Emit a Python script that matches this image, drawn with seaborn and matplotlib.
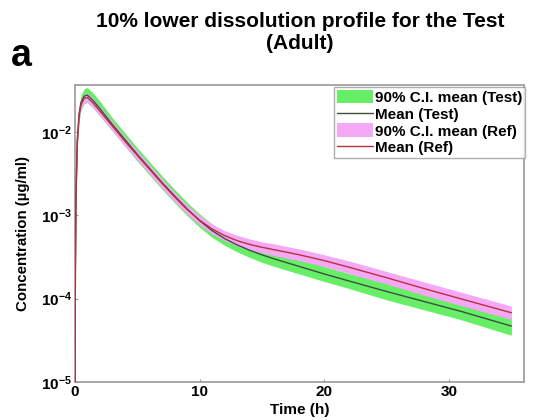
import numpy as np
import pandas as pd
import matplotlib
matplotlib.use("Agg")
import matplotlib.pyplot as plt
import seaborn as sns
from matplotlib.patches import Patch
from matplotlib.lines import Line2D
from matplotlib.ticker import FixedLocator, FuncFormatter, NullLocator

# Time points (h)
time_h = [0, 0.05, 0.1, 0.2, 0.35, 0.5, 0.75, 1.0, 1.5, 2, 3, 4, 5, 6, 7, 8, 9, 10,
          11, 12, 13, 14, 15, 16, 18, 20, 22, 25, 28, 31, 35]

# Concentrations, stored as log10(µg/ml)
test_mean_log = [-6, -3.65, -2.75, -2.10, -1.78, -1.65, -1.575, -1.56, -1.63, -1.72,
                 -1.91, -2.09, -2.27, -2.44, -2.61, -2.77, -2.925, -3.065, -3.185, -3.28,
                 -3.355, -3.42, -3.475, -3.525, -3.615, -3.705, -3.79, -3.915, -4.035,
                 -4.155, -4.33]
test_lo_log = [-6, -3.74, -2.84, -2.19, -1.87, -1.74, -1.665, -1.65, -1.72, -1.81,
               -1.99, -2.17, -2.35, -2.52, -2.69, -2.85, -3.005, -3.145, -3.265, -3.36,
               -3.44, -3.505, -3.565, -3.615, -3.705, -3.795, -3.88, -4.015, -4.135,
               -4.255, -4.44]
test_hi_log = [-6, -3.56, -2.66, -2.01, -1.69, -1.56, -1.485, -1.47, -1.54, -1.63,
               -1.83, -2.01, -2.19, -2.36, -2.53, -2.69, -2.845, -2.985, -3.105, -3.20,
               -3.27, -3.335, -3.385, -3.435, -3.525, -3.615, -3.70, -3.815, -3.935,
               -4.055, -4.22]

ref_mean_log = [-6, -3.70, -2.80, -2.14, -1.81, -1.68, -1.60, -1.59, -1.66, -1.75,
                -1.93, -2.11, -2.28, -2.45, -2.62, -2.78, -2.93, -3.06, -3.165, -3.245,
                -3.305, -3.35, -3.385, -3.415, -3.475, -3.545, -3.625, -3.75, -3.88,
                -4.005, -4.17]
ref_lo_log = [-6, -3.755, -2.855, -2.195, -1.865, -1.735, -1.655, -1.645, -1.715, -1.805,
              -1.985, -2.165, -2.335, -2.505, -2.675, -2.835, -2.985, -3.115, -3.225, -3.305,
              -3.37, -3.415, -3.45, -3.485, -3.545, -3.615, -3.70, -3.825, -3.96,
              -4.085, -4.25]
ref_hi_log = [-6, -3.645, -2.745, -2.085, -1.755, -1.625, -1.545, -1.535, -1.605, -1.695,
              -1.875, -2.055, -2.225, -2.395, -2.565, -2.725, -2.875, -3.005, -3.105, -3.185,
              -3.24, -3.285, -3.32, -3.345, -3.405, -3.475, -3.55, -3.675, -3.80,
              -3.925, -4.09]

labels = ["90% C.I. mean (Test)", "Mean (Test)", "90% C.I. mean (Ref)", "Mean (Ref)"]
x_ticks = [0, 10, 20, 30]
y_ticks = [1e-5, 1e-4, 1e-3, 1e-2]

GREEN = "#66EE66"
PINK = "#F5A8F5"
TEST_LINE = "#3F4F3F"
REF_LINE = "#B8303F"

sns.set_theme(style="white")
plt.rcParams['font.family'] = ['Liberation Sans', 'DejaVu Sans']
plt.rcParams['font.weight'] = 'bold'
plt.rcParams['text.color'] = 'black'
plt.rcParams['axes.labelcolor'] = 'black'
plt.rcParams['mathtext.fontset'] = 'custom'
plt.rcParams['mathtext.bf'] = 'Liberation Sans:bold'
plt.rcParams['mathtext.rm'] = 'Liberation Sans:bold'

to_conc = lambda a: list(np.power(10.0, a))
test_lo, test_hi = to_conc(test_lo_log), to_conc(test_hi_log)
ref_lo, ref_hi = to_conc(ref_lo_log), to_conc(ref_hi_log)

df = pd.DataFrame({
    "time": time_h * 2,
    "conc": to_conc(test_mean_log) + to_conc(ref_mean_log),
    "series": ["Test"] * len(time_h) + ["Ref"] * len(time_h),
})

fig = plt.figure(figsize=(5.34, 4.2), dpi=100)
ax = fig.add_axes([0.140, 0.0905, 0.841, 0.7071])

ax.fill_between(time_h, test_lo, test_hi, color=GREEN, linewidth=0, zorder=1)
ax.fill_between(time_h, ref_lo, ref_hi, color=PINK, linewidth=0, zorder=2)
sns.lineplot(data=df, x="time", y="conc", hue="series",
             palette={"Test": TEST_LINE, "Ref": REF_LINE},
             linewidth=1.0, ax=ax, legend=False, zorder=3)

ax.set_yscale("log")
ax.set_xlim(0, 36)
ax.set_ylim(1e-5, 10 ** -1.44)
ax.xaxis.set_major_locator(FixedLocator(x_ticks))
ax.yaxis.set_major_locator(FixedLocator(y_ticks))
ax.yaxis.set_minor_locator(NullLocator())
ax.yaxis.set_major_formatter(FuncFormatter(
    lambda v, p: r"$\mathbf{10^{%d}}$" % int(round(np.log10(v)))))
ax.tick_params(axis="both", labelsize=11, direction="in", length=2, width=0.8,
               colors="#999999", labelcolor="black", pad=2)
ax.tick_params(axis="both", which="both", bottom=True, left=True)
for lbl in ax.get_xticklabels():
    lbl.set_fontweight("bold")

for s in ax.spines.values():
    s.set_color("#9a9a9a")
    s.set_linewidth(1.2)

ax.set_xlabel("Time (h)", fontsize=11, fontweight="bold", labelpad=3)
ax.set_ylabel("Concentration (µg/ml)", fontsize=10.8, fontweight="bold", labelpad=8)

fig.text(0.562, 0.972, "10% lower dissolution profile for the Test\n(Adult)",
         ha="center", va="top", fontsize=15, fontweight="bold", linespacing=1.2)
fig.text(0.021, 0.843, "a", fontsize=27, fontweight="bold", ha="left", va="baseline")

handles = [Patch(facecolor=GREEN, edgecolor="none"),
           Line2D([], [], color=TEST_LINE, lw=1.0),
           Patch(facecolor=PINK, edgecolor="none"),
           Line2D([], [], color=REF_LINE, lw=1.0)]
leg = ax.legend(handles, labels, loc="upper right", bbox_to_anchor=(1.01, 1.005),
                fontsize=11, frameon=True, fancybox=False, handlelength=2.3,
                handleheight=1.0, handletextpad=0.15, labelspacing=0.12,
                borderpad=0.2, borderaxespad=0.2)
leg.get_frame().set_edgecolor("#9a9a9a")
leg.get_frame().set_linewidth(1.0)
for t in leg.get_texts():
    t.set_fontweight("bold")

fig.savefig("out.png", dpi=100)
